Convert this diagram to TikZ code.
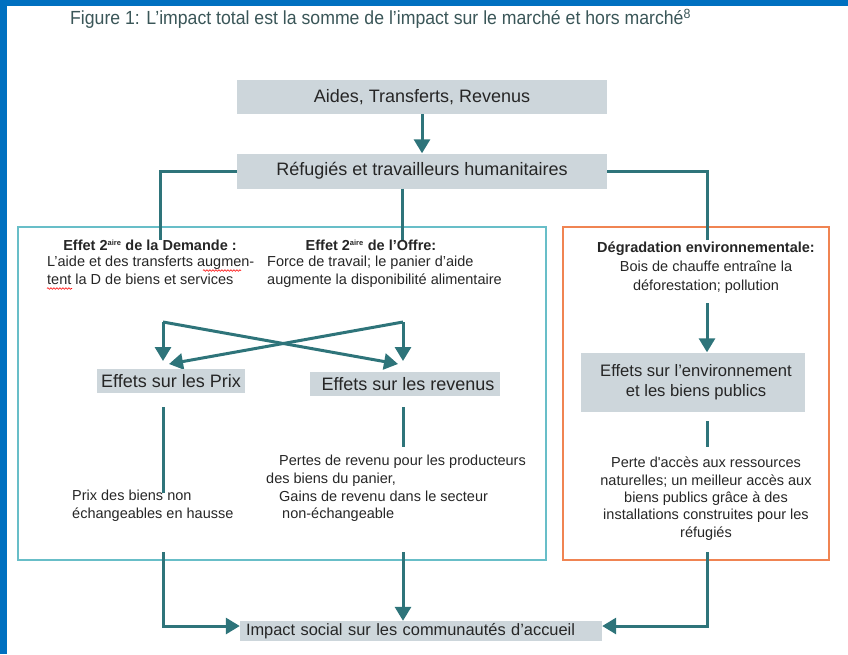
\documentclass[tikz,border=0pt]{standalone}
\usepackage{fontspec}
\setmainfont{Liberation Sans}
\newfontfamily\titrefont[FakeStretch=0.93]{Liberation Sans}
\usetikzlibrary{arrows.meta,positioning,decorations.pathmorphing}
\definecolor{fleche}{RGB}{46,116,122}
\definecolor{grisbox}{RGB}{205,214,219}
\definecolor{cadreteal}{RGB}{104,190,200}
\definecolor{cadreorange}{RGB}{240,132,82}
\definecolor{bordbleu}{RGB}{0,112,192}
\definecolor{titre}{RGB}{58,86,88}
\newcommand\exposant[1]{\textsuperscript{\fontsize{7.5}{8}\selectfont #1}}
\tikzset{
  boite/.style={fill=grisbox, inner sep=0pt, font=\fontsize{18}{20}\selectfont, text=black!85},
  fl/.style={draw=fleche, line width=3pt, -{Triangle[width=16pt,length=14pt]}},
  trait/.style={draw=fleche, line width=3pt},
  texte/.style={font=\fontsize{14.5}{18}\selectfont, text=black!85, inner sep=0pt},
  titrebloc/.style={texte, font=\fontsize{14.5}{18}\selectfont\bfseries},
  faute/.style={red, line width=0.6pt, decorate, decoration={snake, amplitude=0.8pt, segment length=3pt}},
}
\begin{document}
\begin{tikzpicture}[x=1pt,y=-1pt]
  \useasboundingbox (0,0) rectangle (848,654);
  \fill[bordbleu] (0,0) rectangle (848,6);
  \fill[bordbleu] (0,0) rectangle (7,654);
  \node[anchor=west, text=titre, inner sep=0pt] (titre) at (70,19)
    {\titrefont\fontsize{19}{22}\selectfont Figure 1: L’impact total est la somme de l’impact sur le marché et hors marché\textsuperscript{8}};

  % cadres
  \draw[cadreteal, line width=1.5pt] (18,227) rectangle (546,560);
  \draw[cadreorange, line width=2pt] (563,227) rectangle (829,560);

  \node[boite, minimum width=370pt, minimum height=34pt] (aides) at (422,97) {Aides, Transferts, Revenus};
  \node[boite, minimum width=370pt, minimum height=35pt] (refugies) at (422,171) {Réfugiés et travailleurs humanitaires};
  \draw[fl] (aides.south) -- (refugies.north);

  \coordinate (gauche) at (160,240);
  \coordinate (milieu) at (402,240);
  \coordinate (droite) at (707,240);
  \draw[trait] (refugies.west) -| (gauche);
  \draw[trait] (refugies.south -| milieu) -- (milieu);
  \draw[trait] (refugies.east) -| (droite);

  % marche
  \node[titrebloc] (demTitre) at (150,245) {Effet 2\exposant{aire} de la Demande :};
  \node[texte, anchor=north west, align=left] (demTexte) at (47,256)
    {L’aide et des transferts augmen-\\tent la D de biens et services};
  \node[titrebloc] (offTitre) at (371,245) {Effet 2\exposant{aire} de l’Offre:};
  \node[texte, anchor=north west, align=left] (offTexte) at (267,256)
    {Force de travail; le panier d’aide\\augmente la disponibilité alimentaire};
  \draw[faute] (203,270.5) -- (241,270.5);
  \draw[faute] (47,288.5) -- (72,288.5);

  \coordinate (hautD) at (163,322);
  \coordinate (hautO) at (403,322);
  \coordinate (basD) at (163,361);
  \coordinate (basO) at (403,361);
  \coordinate (diagD) at (169,364);
  \coordinate (diagO) at (398,364);
  \draw[fl] (hautD) -- (basD);
  \draw[fl] (hautO) -- (basO);
  \draw[fl] (hautD) -- (diagO);
  \draw[fl] (hautO) -- (diagD);

  \node[boite, minimum width=148pt, minimum height=24pt] (prix) at (171,381) {Effets sur les Prix};
  \node[boite, minimum width=190pt, minimum height=24pt] (revenus) at (405,384) {\hspace*{6pt}Effets sur les revenus};

  \coordinate (prixA) at (163,407);
  \coordinate (prixB) at (163,493);
  \coordinate (revA) at (403,407);
  \coordinate (revB) at (403,447);
  \draw[trait] (prixA) -- (prixB);
  \draw[trait] (revA) -- (revB);
  \node[texte, anchor=north west, align=left] (prixTexte) at (72,490)
    {Prix des biens non\\échangeables en hausse};
  \node[texte, anchor=north west, align=left, font=\fontsize{14.5}{17.7}\selectfont] (revTexte) at (266,455)
    {\hspace*{13pt}Pertes de revenu pour les producteurs\\des biens du panier,\\\hspace*{13pt}Gains de revenu dans le secteur\\\hspace*{16pt}non-échangeable};

  % hors marche
  \node[titrebloc] (envTitre) at (706,249) {Dégradation environnementale:};
  \node[texte, anchor=north, align=center, font=\fontsize{14.5}{19}\selectfont] (envTexte) at (706,261)
    {Bois de chauffe entraîne la\\déforestation; pollution};
  \node[boite, minimum width=224pt, minimum height=59pt, align=center, font=\fontsize{16.6}{20}\selectfont] (env) at (693,382)
    {\hspace*{6pt}Effets sur l’environnement\\\hspace*{6pt}et les biens publics};
  \coordinate (envA) at (707,303);
  \draw[fl] (envA) -- (env.north -| envA);
  \coordinate (accA) at (707,421);
  \coordinate (accB) at (707,447);
  \draw[trait] (accA) -- (accB);
  \node[texte, anchor=north, align=center, font=\fontsize{14.5}{17.3}\selectfont] (accTexte) at (706,457)
    {Perte d\textquotesingle accès aux ressources\\naturelles; un meilleur accès aux\\biens publics grâce à des\\installations construites pour les\\réfugiés};

  % impact
  \node[boite, minimum width=362pt, minimum height=20pt, font=\fontsize{16.4}{18}\selectfont, text width=350pt, align=left] (impact) at (421,631)
    {Impact social sur les communautés d’accueil};
  \coordinate (impG) at (163,552);
  \coordinate (impM) at (403,552);
  \coordinate (impD) at (707,552);
  \draw[fl] (impG) |- ([yshift=5pt]impact.west);
  \draw[fl] (impM) -- (impact.north -| impM);
  \draw[fl] (impD) |- ([yshift=5pt]impact.east);
\end{tikzpicture}
\end{document}
